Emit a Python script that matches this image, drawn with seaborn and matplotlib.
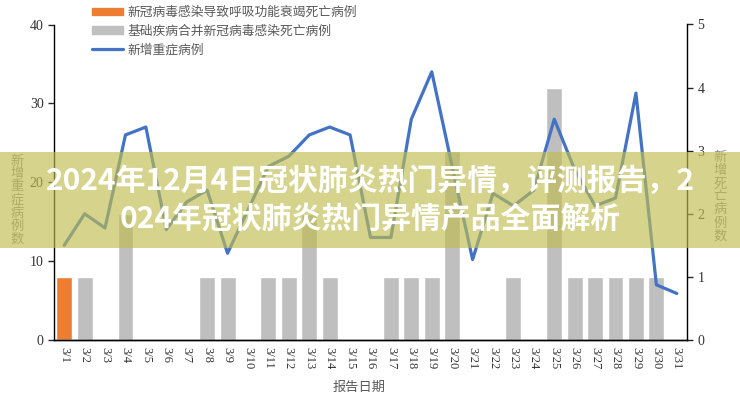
import matplotlib
matplotlib.use('Agg')
import matplotlib.pyplot as plt
from matplotlib.patches import Patch, Rectangle
from matplotlib.lines import Line2D
import seaborn as sns
import pandas as pd
import numpy as np

# report dates, March
dates = ['3/%d' % d for d in range(1, 32)]
# new severe cases (left axis)
severe = [12, 16, 14.2, 26, 27, 14, 17.5, 19, 11, 16.5, 22, 23.3, 26, 27, 26, 13,
          13, 28, 34, 22, 10.2, 18.6, 17, 19, 28, 21.6, 17, 18, 31.3, 7, 5.9]
# deaths: respiratory failure caused by covid infection (right axis)
deaths_resp = [1, 0, 0, 0, 0, 0, 0, 0, 0, 0, 0, 0, 0, 0, 0, 0,
               0, 0, 0, 0, 0, 0, 0, 0, 0, 0, 0, 0, 0, 0, 0]
# deaths: underlying disease combined with covid infection (right axis)
deaths_base = [0, 1, 0, 2, 0, 0, 0, 1, 1, 0, 1, 1, 2, 1, 0, 0,
               1, 1, 1, 3, 0, 0, 1, 0, 4, 1, 1, 1, 1, 1, 0]

lab_resp = '新冠病毒感染导致呼吸功能衰竭死亡病例'
lab_base = '基础疾病合并新冠病毒感染死亡病例'
lab_line = '新增重症病例'

c_orange = '#ED7D31'
c_grey = '#BFBFBF'
c_blue = '#4472C4'

sns.set_style('white')
plt.rcParams['font.family'] = ['Liberation Serif', 'Noto Sans CJK SC']
serif = ['Liberation Serif', 'DejaVu Serif']
cjk = ['Noto Sans CJK SC', 'DejaVu Sans']

bars = pd.DataFrame({
    'date': dates * 2,
    'deaths': deaths_resp + deaths_base,
    'kind': [lab_resp] * 31 + [lab_base] * 31,
})

fig = plt.figure(figsize=(7.4, 4.0), dpi=100)
ax = fig.add_axes([54 / 740, 1 - 340 / 400, (687 - 54) / 740, (340 - 24.5) / 400])
ax2 = ax.twinx()

sns.barplot(data=bars, x='date', y='deaths', hue='kind', order=dates,
            hue_order=[lab_resp, lab_base], palette=[c_orange, c_grey],
            saturation=1, dodge=False, width=0.78, legend=False, ax=ax2)
sns.lineplot(x=np.arange(len(dates)), y=severe, color=c_blue, lw=2.3, ax=ax)

ax.set_zorder(ax2.get_zorder() + 1)
ax.patch.set_visible(False)

ax.set_xlim(-0.5, len(dates) - 0.5)
ax.set_ylim(0, 40)
ax.set_yticks([0, 10, 20, 30, 40])
ax2.set_ylim(0, 5)
ax2.set_yticks(range(6))

ax.set_xticks(np.arange(-0.5, len(dates)))
ax.set_xticklabels([])
ax.set_xticks(np.arange(len(dates)), minor=True)
ax.set_xticklabels(dates, minor=True, rotation=-90, fontsize=9, color='#333333')
ax.tick_params(axis='x', which='minor', length=0, pad=5)
ax.tick_params(axis='x', which='major', length=4, width=1, direction='out', color='black')
ax.tick_params(axis='y', length=4, width=1, direction='out', labelsize=10,
               labelcolor='#333333', left=True)
ax2.tick_params(axis='y', length=4, width=1, direction='out', labelsize=10,
                labelcolor='#333333', right=True)
for lbl in (ax.get_xticklabels(minor=True) + ax.get_yticklabels()
            + ax2.get_yticklabels()):
    lbl.set_fontfamily(serif)
ax.set_xlabel('')
ax.set_ylabel('')
ax2.set_xlabel('')
ax2.set_ylabel('')

for a in (ax, ax2):
    a.spines['top'].set_visible(False)
    for s in a.spines.values():
        s.set_color('black')
        s.set_linewidth(1)
ax.spines['right'].set_visible(False)
ax2.spines['left'].set_visible(False)

handles = [Patch(color=c_orange), Patch(color=c_grey),
           Line2D([], [], color=c_blue, lw=2.3)]
ax.legend(handles, [lab_resp, lab_base, lab_line], loc='upper left',
          bbox_to_anchor=(92 / 740, 1 - 6 / 400), bbox_transform=fig.transFigure,
          frameon=False, borderpad=0, borderaxespad=0, handlelength=2.45,
          handleheight=0.55, handletextpad=0.3, labelspacing=0.45,
          prop={'family': cjk, 'size': 9.2}, labelcolor='#595959')

fig.text(17 / 740, 1 - 200 / 400, '\n'.join('新增重症病例数'), ha='center', va='center',
         family=cjk, fontsize=9.5, color='#8c8c8c', linespacing=1.0)
fig.text(720 / 740, 1 - 197 / 400, '\n'.join('新增死亡病例数'), ha='center', va='center',
         family=cjk, fontsize=9.5, color='#8c8c8c', linespacing=1.0)
fig.text(359 / 740, 1 - 387 / 400, '报告日期', ha='center', va='center',
         family=cjk, fontsize=9.5, color='#595959')

# overlay banner with headline
fig.add_artist(Rectangle((0, 1 - 248 / 400), 1, 96 / 400, transform=fig.transFigure,
                         facecolor='#c0bd4e', alpha=0.65, edgecolor='none', zorder=10))
fig.text(0.5, 1 - 181 / 400, '2024年12月4日冠状肺炎热门异情，评测报告，2',
         ha='center', va='center', family=cjk, fontsize=21.5, fontweight='bold',
         color='white', zorder=11)
fig.text(0.5, 1 - 220 / 400, '024年冠状肺炎热门异情产品全面解析',
         ha='center', va='center', family=cjk, fontsize=21.5, fontweight='bold',
         color='white', zorder=11)

plt.savefig('out.png', dpi=100)
